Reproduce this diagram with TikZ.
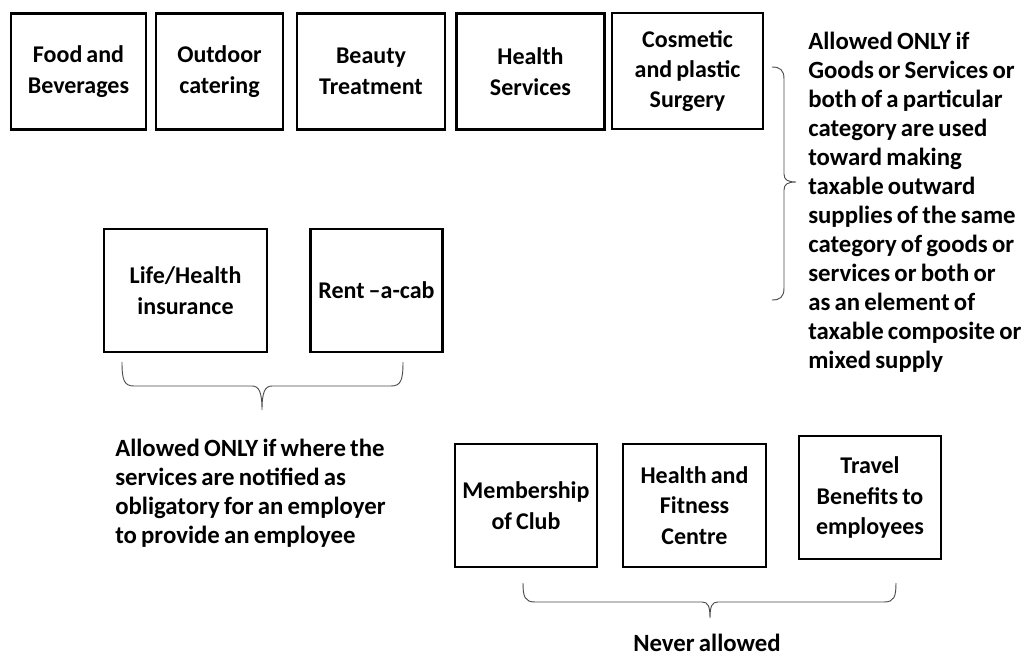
\documentclass[tikz,border=0pt]{standalone}
\usepackage{fontspec}
\setmainfont{Carlito}[WordSpace=0.75]
\usepackage{tikz}
\usetikzlibrary{positioning}

\begin{document}
\begin{tikzpicture}[x=0.75pt, y=-0.75pt, font=\bfseries]
% Define styles
\tikzstyle{item} = [rectangle, draw=black, line width=1.7pt, minimum height=87pt, align=center, font=\fontsize{18}{22.8}\selectfont\bfseries]
\tikzstyle{note} = [align=left, inner sep=0pt, font=\fontsize{18.6}{21.75}\selectfont\bfseries]
\tikzstyle{bracket} = [line width=0.7pt, black!70]

\useasboundingbox (0,0) rectangle (1026,656);

% Draw nodes
\node [item, minimum width=101pt] (food) at (78.5,71.5) {Food and\\Beverages};
\node [item, minimum width=95pt] (outdoor) at (219.5,71.5) {Outdoor\\catering};
\node [item, minimum width=111pt] (beauty) at (371,71.5) {Beauty\\Treatment};
\node [item, minimum width=111pt] (health) at (530.5,71.5) {Health\\Services};
\node [item, minimum width=113pt] (cosmetic) at (687.5,71) {Cosmetic\\and plastic\\Surgery};

\node [item, minimum width=122pt, minimum height=92pt] (life) at (185.5,290.5) {Life/Health\\insurance};
\node [item, minimum width=99pt, minimum height=92pt] (cab) at (376.5,290.5) {Rent –a-cab};

\node [item, minimum width=107pt, minimum height=92pt] (club) at (526,505.5) {Membership\\of Club};
\node [item, minimum width=107pt, minimum height=92pt] (fitness) at (694.5,505.5) {Health and\\Fitness\\Centre};
\node [item, minimum width=107pt, minimum height=92pt] (travel) at (870,497.5) {Travel\\Benefits to\\employees};

% Draw braces
\draw [bracket] (772,67) .. controls (780,67) and (784,70) .. (784,79) -- (784,174) .. controls (784,180) and (788,182) .. (796,182) .. controls (788,182) and (784,184) .. (784,190) -- (784,288) .. controls (784,297) and (780,300) .. (772,300);
\draw [bracket] (122,362) .. controls (122,380) and (124,386) .. (134,386) -- (252,386) .. controls (259,386) and (262,392) .. (262,410) .. controls (262,392) and (265,386) .. (272,386) -- (391,386) .. controls (401,386) and (403,380) .. (403,362);
\draw [bracket] (523,583) .. controls (523,597) and (525,602) .. (535,602) -- (702,602) .. controls (708,602) and (710,606) .. (710,618) .. controls (710,606) and (712,602) .. (718,602) -- (884,602) .. controls (894,602) and (896,597) .. (896,583);

% Add side labels
\node [note, anchor=north west] (sametype) at (808,32) {Allowed ONLY if\\Goods or Services or\\both of a particular\\category are used\\toward making\\taxable outward\\supplies of the same\\category of goods or\\services or both or\\as an element of\\taxable composite or\\mixed supply};
\node [note, anchor=north west] (notified) at (115,439) {Allowed ONLY if where the\\services are notified as\\obligatory for an employer\\to provide an employee};
\node [note, anchor=base] (never) at (707,651) {Never allowed};
\end{tikzpicture}
\end{document}
